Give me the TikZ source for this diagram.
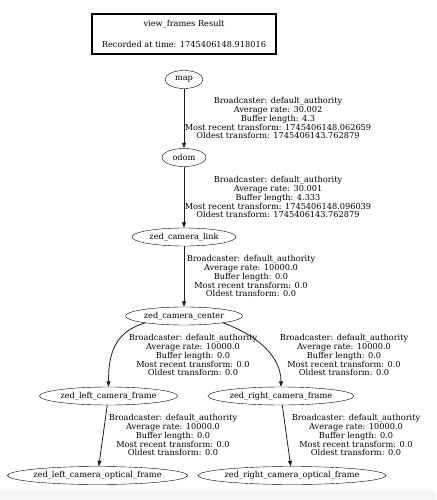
\documentclass[tikz,border=0pt]{standalone}
\usepackage{fontspec}
\setmainfont{DejaVu Serif}
\usetikzlibrary{shapes.geometric,arrows.meta,positioning,calc}
\definecolor{edgegray}{RGB}{30,30,30}
\definecolor{stripgray}{RGB}{246,246,246}

\tikzset{
  frame/.style={draw, ellipse, inner xsep=-12pt, inner ysep=0pt, minimum height=18pt, font=\fontsize{8.2}{8}\selectfont},
  tfinfo/.style={align=center, inner sep=0pt, font=\fontsize{8.2}{8}\selectfont},
  tfedge/.style={draw=edgegray, line width=0.8pt, -{Triangle[length=5.5pt,width=4pt]}}
}

\begin{document}
\begin{tikzpicture}[x=1pt, y=-1pt]
    \useasboundingbox (0,0) rectangle (436,500);
    \fill[stripgray] (0,490) rectangle (436,500);

    % Header box
    \node[draw, line width=1.5pt, minimum width=184pt, minimum height=40pt, tfinfo] (header) at (184,34) {view\_frames Result\\[11pt]Recorded at time: 1745406148.918016};

    % Frames
    \node[frame, minimum width=38pt] (map) at (184,79.5) {map};
    \node[frame, minimum width=44pt] (odom) at (184,157.5) {odom};
    \node[frame, minimum width=104pt] (camlink) at (184,237) {zed\_camera\_link};
    \node[frame, minimum width=117pt] (camcenter) at (184,316) {zed\_camera\_center};
    \node[frame, minimum width=138pt] (leftframe) at (108.5,396) {zed\_left\_camera\_frame};
    \node[frame, minimum width=146pt] (rightframe) at (281,396) {zed\_right\_camera\_frame};
    \node[frame, minimum width=180pt] (leftoptical) at (97.5,475.5) {zed\_left\_camera\_optical\_frame};
    \node[frame, minimum width=188pt] (rightoptical) at (292,475.5) {zed\_right\_camera\_optical\_frame};

    % Transform labels
    \node[tfinfo] (info1) at (278,118) {Broadcaster: default\_authority\\Average rate: 30.002\\Buffer length: 4.3\\Most recent transform: 1745406148.062659\\Oldest transform: 1745406143.762879};
    \node[tfinfo] (info2) at (278,197) {Broadcaster: default\_authority\\Average rate: 30.001\\Buffer length: 4.333\\Most recent transform: 1745406148.096039\\Oldest transform: 1745406143.762879};
    \node[tfinfo] (info3) at (251,276) {Broadcaster: default\_authority\\Average rate: 10000.0\\Buffer length: 0.0\\Most recent transform: 0.0\\Oldest transform: 0.0};
    \node[tfinfo] (info4) at (193,355) {Broadcaster: default\_authority\\Average rate: 10000.0\\Buffer length: 0.0\\Most recent transform: 0.0\\Oldest transform: 0.0};
    \node[tfinfo] (info5) at (344,355) {Broadcaster: default\_authority\\Average rate: 10000.0\\Buffer length: 0.0\\Most recent transform: 0.0\\Oldest transform: 0.0};
    \node[tfinfo] (info6) at (173,435) {Broadcaster: default\_authority\\Average rate: 10000.0\\Buffer length: 0.0\\Most recent transform: 0.0\\Oldest transform: 0.0};
    \node[tfinfo] (info7) at (356,435) {Broadcaster: default\_authority\\Average rate: 10000.0\\Buffer length: 0.0\\Most recent transform: 0.0\\Oldest transform: 0.0};

    % Edges
    \draw[tfedge] (map) -- (odom);
    \draw[tfedge] (odom) -- (camlink);
    \draw[tfedge] (camlink) -- (camcenter);
    \draw[tfedge] (camcenter.190) .. controls +(-30,9) and +(0,-34) .. (leftframe.north);
    \draw[tfedge] (camcenter.350) .. controls +(28,10) and +(0,-34) .. (rightframe.north);
    \draw[tfedge] (leftframe) -- (leftoptical);
    \draw[tfedge] (rightframe) -- (rightoptical);
\end{tikzpicture}
\end{document}
